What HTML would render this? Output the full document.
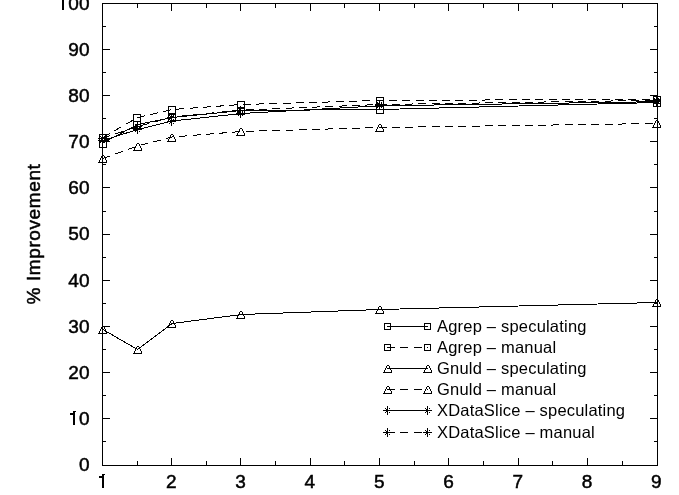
<!DOCTYPE html><html><head><meta charset="utf-8"><style>
html,body{margin:0;padding:0;background:#fff;width:679px;height:495px;overflow:hidden}
svg{display:block;will-change:transform}
text{font-family:"Liberation Sans",sans-serif;fill:#000}
.lab text{stroke:#000;stroke-width:0.5}
</style></head><body>
<svg width="679" height="495" viewBox="0 0 679 495">
<g stroke="#000" stroke-width="1" fill="none" shape-rendering="crispEdges">
<rect x="102.5" y="3.5" width="555" height="462"/>
<path d="M102 441.5h4M658 441.5h-4M102 418.5h8M658 418.5h-8M102 395.5h4M658 395.5h-4M102 372.5h8M658 372.5h-8M102 349.5h4M658 349.5h-4M102 326.5h8M658 326.5h-8M102 303.5h4M658 303.5h-4M102 280.5h8M658 280.5h-8M102 257.5h4M658 257.5h-4M102 234.5h8M658 234.5h-8M102 211.5h4M658 211.5h-4M102 187.5h8M658 187.5h-8M102 164.5h4M658 164.5h-4M102 141.5h8M658 141.5h-8M102 118.5h4M658 118.5h-4M102 95.5h8M658 95.5h-8M102 72.5h4M658 72.5h-4M102 49.5h8M658 49.5h-8M102 26.5h4M658 26.5h-4M137.5 466v-5M137.5 3v5M171.5 466v-8M171.5 3v8M206.5 466v-5M206.5 3v5M240.5 466v-8M240.5 3v8M275.5 466v-5M275.5 3v5M310.5 466v-8M310.5 3v8M344.5 466v-5M344.5 3v5M379.5 466v-8M379.5 3v8M414.5 466v-5M414.5 3v5M448.5 466v-8M448.5 3v8M483.5 466v-5M483.5 3v5M518.5 466v-8M518.5 3v8M552.5 466v-5M552.5 3v5M587.5 466v-8M587.5 3v8M622.5 466v-5M622.5 3v5"/>
</g>
<g class="lab" font-size="19">
<text x="89.5" y="471.34" text-anchor="end">0</text>
<text x="89.5" y="425.16" text-anchor="end"><tspan style="fill:none;stroke:none">1</tspan>0</text>
<text x="89.5" y="378.98" text-anchor="end">20</text>
<text x="89.5" y="332.80" text-anchor="end">30</text>
<text x="89.5" y="286.62" text-anchor="end">40</text>
<text x="89.5" y="240.44" text-anchor="end">50</text>
<text x="89.5" y="194.26" text-anchor="end">60</text>
<text x="89.5" y="148.08" text-anchor="end">70</text>
<text x="89.5" y="101.90" text-anchor="end">80</text>
<text x="89.5" y="55.72" text-anchor="end">90</text>
<text x="89.5" y="9.54" text-anchor="end"><tspan style="fill:none;stroke:none">1</tspan>00</text>
<text x="101.98" y="487.8" text-anchor="middle"><tspan style="fill:none;stroke:none">1</tspan></text>
<text x="171.28" y="487.8" text-anchor="middle">2</text>
<text x="240.58" y="487.8" text-anchor="middle">3</text>
<text x="309.88" y="487.8" text-anchor="middle">4</text>
<text x="379.18" y="487.8" text-anchor="middle">5</text>
<text x="448.48" y="487.8" text-anchor="middle">6</text>
<text x="517.78" y="487.8" text-anchor="middle">7</text>
<text x="587.08" y="487.8" text-anchor="middle">8</text>
<text x="656.38" y="487.8" text-anchor="middle">9</text>
<text transform="translate(40,234) rotate(-90)" text-anchor="middle" letter-spacing="0.6">% Improvement</text>
</g>
<g fill="#000" shape-rendering="crispEdges"><path d="M73 411h1v1h-1zM74 411h1v1h-1zM73 412h1v1h-1zM74 412h1v1h-1zM73 413h1v1h-1zM74 413h1v1h-1zM73 414h1v1h-1zM74 414h1v1h-1zM73 415h1v1h-1zM74 415h1v1h-1zM73 416h1v1h-1zM74 416h1v1h-1zM73 417h1v1h-1zM74 417h1v1h-1zM73 418h1v1h-1zM74 418h1v1h-1zM73 419h1v1h-1zM74 419h1v1h-1zM73 420h1v1h-1zM74 420h1v1h-1zM73 421h1v1h-1zM74 421h1v1h-1zM73 422h1v1h-1zM74 422h1v1h-1zM73 423h1v1h-1zM74 423h1v1h-1zM73 424h1v1h-1zM74 424h1v1h-1zM70 413h1v1h-1zM71 413h1v1h-1zM72 413h1v1h-1zM70 414h1v1h-1zM71 414h1v1h-1zM72 414h1v1h-1zM75 411h1v1h-1zM102 474h1v1h-1zM103 474h1v1h-1zM102 475h1v1h-1zM103 475h1v1h-1zM102 476h1v1h-1zM103 476h1v1h-1zM102 477h1v1h-1zM103 477h1v1h-1zM102 478h1v1h-1zM103 478h1v1h-1zM102 479h1v1h-1zM103 479h1v1h-1zM102 480h1v1h-1zM103 480h1v1h-1zM102 481h1v1h-1zM103 481h1v1h-1zM102 482h1v1h-1zM103 482h1v1h-1zM102 483h1v1h-1zM103 483h1v1h-1zM102 484h1v1h-1zM103 484h1v1h-1zM102 485h1v1h-1zM103 485h1v1h-1zM102 486h1v1h-1zM103 486h1v1h-1zM102 487h1v1h-1zM103 487h1v1h-1zM99 476h1v1h-1zM100 476h1v1h-1zM101 476h1v1h-1zM99 477h1v1h-1zM100 477h1v1h-1zM101 477h1v1h-1zM104 474h1v1h-1zM62 0h1v1h-1zM63 0h1v1h-1zM62 1h1v1h-1zM63 1h1v1h-1zM62 2h1v1h-1zM63 2h1v1h-1zM62 3h1v1h-1zM63 3h1v1h-1zM62 4h1v1h-1zM63 4h1v1h-1zM62 5h1v1h-1zM63 5h1v1h-1zM62 6h1v1h-1zM63 6h1v1h-1zM62 7h1v1h-1zM63 7h1v1h-1zM62 8h1v1h-1zM63 8h1v1h-1zM62 9h1v1h-1zM63 9h1v1h-1z"/></g>
<g stroke="#000" stroke-width="1" fill="none" shape-rendering="crispEdges">
<polyline points="102.88,143.00 137.53,124.50 172.18,117.50 241.48,110.50 380.08,109.50 657.28,102.50"/>
<polyline points="102.88,137.50 137.53,117.50 172.18,109.50 241.48,104.50 380.08,100.50 657.28,99.20" stroke-dasharray="8 5.3"/>
<polyline points="102.88,329.50 137.53,349.50 172.18,323.50 241.48,314.50 380.08,309.50 657.28,302.50"/>
<polyline points="102.88,158.50 137.53,146.00 172.18,137.00 241.48,131.50 380.08,127.50 657.28,123.50" stroke-dasharray="8 5.3"/>
<polyline points="102.88,140.50 137.53,129.50 172.18,121.00 241.48,113.50 380.08,105.80 657.28,101.70"/>
<polyline points="102.88,138.00 137.53,126.50 172.18,117.00 241.48,110.00 380.08,104.50 657.28,100.30" stroke-dasharray="8 5.3"/>
</g>
<g fill="#000" shape-rendering="crispEdges">
<path d="M98 138h1v1h-1zM98 140h1v1h-1zM98 162h1v1h-1zM98 333h1v1h-1zM99 134h1v1h-1zM99 135h1v1h-1zM99 136h1v1h-1zM99 137h1v1h-1zM99 138h1v1h-1zM99 139h1v1h-1zM99 140h1v1h-1zM99 141h1v1h-1zM99 142h1v1h-1zM99 143h1v1h-1zM99 144h1v1h-1zM99 145h1v1h-1zM99 146h1v1h-1zM99 147h1v1h-1zM99 160h1v1h-1zM99 161h1v1h-1zM99 162h1v1h-1zM99 331h1v1h-1zM99 332h1v1h-1zM99 333h1v1h-1zM100 134h1v1h-1zM100 136h1v1h-1zM100 138h1v1h-1zM100 140h1v1h-1zM100 141h1v1h-1zM100 142h1v1h-1zM100 147h1v1h-1zM100 158h1v1h-1zM100 159h1v1h-1zM100 162h1v1h-1zM100 329h1v1h-1zM100 330h1v1h-1zM100 333h1v1h-1zM101 134h1v1h-1zM101 137h1v1h-1zM101 138h1v1h-1zM101 139h1v1h-1zM101 140h1v1h-1zM101 141h1v1h-1zM101 147h1v1h-1zM101 156h1v1h-1zM101 157h1v1h-1zM101 162h1v1h-1zM101 327h1v1h-1zM101 328h1v1h-1zM101 333h1v1h-1zM102 134h1v1h-1zM102 135h1v1h-1zM102 136h1v1h-1zM102 137h1v1h-1zM102 138h1v1h-1zM102 139h1v1h-1zM102 140h1v1h-1zM102 141h1v1h-1zM102 142h1v1h-1zM102 143h1v1h-1zM102 144h1v1h-1zM102 147h1v1h-1zM102 155h1v1h-1zM102 162h1v1h-1zM102 326h1v1h-1zM102 333h1v1h-1zM103 134h1v1h-1zM103 138h1v1h-1zM103 140h1v1h-1zM103 141h1v1h-1zM103 147h1v1h-1zM103 155h1v1h-1zM103 162h1v1h-1zM103 326h1v1h-1zM103 333h1v1h-1zM104 134h1v1h-1zM104 136h1v1h-1zM104 138h1v1h-1zM104 140h1v1h-1zM104 141h1v1h-1zM104 142h1v1h-1zM104 147h1v1h-1zM104 156h1v1h-1zM104 157h1v1h-1zM104 162h1v1h-1zM104 327h1v1h-1zM104 328h1v1h-1zM104 333h1v1h-1zM105 134h1v1h-1zM105 138h1v1h-1zM105 140h1v1h-1zM105 141h1v1h-1zM105 147h1v1h-1zM105 158h1v1h-1zM105 159h1v1h-1zM105 162h1v1h-1zM105 329h1v1h-1zM105 330h1v1h-1zM105 333h1v1h-1zM106 134h1v1h-1zM106 135h1v1h-1zM106 136h1v1h-1zM106 137h1v1h-1zM106 138h1v1h-1zM106 139h1v1h-1zM106 140h1v1h-1zM106 141h1v1h-1zM106 142h1v1h-1zM106 143h1v1h-1zM106 144h1v1h-1zM106 145h1v1h-1zM106 146h1v1h-1zM106 147h1v1h-1zM106 160h1v1h-1zM106 161h1v1h-1zM106 162h1v1h-1zM106 331h1v1h-1zM106 332h1v1h-1zM106 333h1v1h-1zM133 114h1v1h-1zM133 115h1v1h-1zM133 116h1v1h-1zM133 117h1v1h-1zM133 118h1v1h-1zM133 119h1v1h-1zM133 120h1v1h-1zM133 121h1v1h-1zM133 122h1v1h-1zM133 123h1v1h-1zM133 124h1v1h-1zM133 125h1v1h-1zM133 126h1v1h-1zM133 127h1v1h-1zM133 128h1v1h-1zM133 129h1v1h-1zM133 150h1v1h-1zM133 353h1v1h-1zM134 114h1v1h-1zM134 121h1v1h-1zM134 126h1v1h-1zM134 128h1v1h-1zM134 129h1v1h-1zM134 148h1v1h-1zM134 149h1v1h-1zM134 150h1v1h-1zM134 351h1v1h-1zM134 352h1v1h-1zM134 353h1v1h-1zM135 114h1v1h-1zM135 121h1v1h-1zM135 124h1v1h-1zM135 126h1v1h-1zM135 127h1v1h-1zM135 128h1v1h-1zM135 129h1v1h-1zM135 131h1v1h-1zM135 146h1v1h-1zM135 147h1v1h-1zM135 150h1v1h-1zM135 349h1v1h-1zM135 350h1v1h-1zM135 353h1v1h-1zM136 114h1v1h-1zM136 121h1v1h-1zM136 125h1v1h-1zM136 126h1v1h-1zM136 127h1v1h-1zM136 128h1v1h-1zM136 129h1v1h-1zM136 130h1v1h-1zM136 144h1v1h-1zM136 145h1v1h-1zM136 150h1v1h-1zM136 347h1v1h-1zM136 348h1v1h-1zM136 353h1v1h-1zM137 114h1v1h-1zM137 121h1v1h-1zM137 122h1v1h-1zM137 123h1v1h-1zM137 124h1v1h-1zM137 125h1v1h-1zM137 126h1v1h-1zM137 127h1v1h-1zM137 128h1v1h-1zM137 129h1v1h-1zM137 130h1v1h-1zM137 131h1v1h-1zM137 132h1v1h-1zM137 133h1v1h-1zM137 143h1v1h-1zM137 150h1v1h-1zM137 346h1v1h-1zM137 353h1v1h-1zM138 114h1v1h-1zM138 121h1v1h-1zM138 126h1v1h-1zM138 128h1v1h-1zM138 129h1v1h-1zM138 143h1v1h-1zM138 150h1v1h-1zM138 346h1v1h-1zM138 353h1v1h-1zM139 114h1v1h-1zM139 121h1v1h-1zM139 124h1v1h-1zM139 126h1v1h-1zM139 127h1v1h-1zM139 128h1v1h-1zM139 129h1v1h-1zM139 131h1v1h-1zM139 144h1v1h-1zM139 145h1v1h-1zM139 150h1v1h-1zM139 347h1v1h-1zM139 348h1v1h-1zM139 353h1v1h-1zM140 114h1v1h-1zM140 115h1v1h-1zM140 116h1v1h-1zM140 117h1v1h-1zM140 118h1v1h-1zM140 119h1v1h-1zM140 120h1v1h-1zM140 121h1v1h-1zM140 122h1v1h-1zM140 123h1v1h-1zM140 124h1v1h-1zM140 125h1v1h-1zM140 126h1v1h-1zM140 127h1v1h-1zM140 128h1v1h-1zM140 129h1v1h-1zM140 146h1v1h-1zM140 147h1v1h-1zM140 150h1v1h-1zM140 349h1v1h-1zM140 350h1v1h-1zM140 353h1v1h-1zM141 126h1v1h-1zM141 129h1v1h-1zM141 148h1v1h-1zM141 149h1v1h-1zM141 150h1v1h-1zM141 351h1v1h-1zM141 352h1v1h-1zM141 353h1v1h-1zM167 117h1v1h-1zM167 121h1v1h-1zM167 141h1v1h-1zM167 327h1v1h-1zM168 106h1v1h-1zM168 107h1v1h-1zM168 108h1v1h-1zM168 109h1v1h-1zM168 110h1v1h-1zM168 111h1v1h-1zM168 112h1v1h-1zM168 113h1v1h-1zM168 114h1v1h-1zM168 115h1v1h-1zM168 116h1v1h-1zM168 117h1v1h-1zM168 118h1v1h-1zM168 119h1v1h-1zM168 120h1v1h-1zM168 121h1v1h-1zM168 139h1v1h-1zM168 140h1v1h-1zM168 141h1v1h-1zM168 325h1v1h-1zM168 326h1v1h-1zM168 327h1v1h-1zM169 106h1v1h-1zM169 113h1v1h-1zM169 114h1v1h-1zM169 115h1v1h-1zM169 117h1v1h-1zM169 119h1v1h-1zM169 121h1v1h-1zM169 123h1v1h-1zM169 137h1v1h-1zM169 138h1v1h-1zM169 141h1v1h-1zM169 323h1v1h-1zM169 324h1v1h-1zM169 327h1v1h-1zM170 106h1v1h-1zM170 113h1v1h-1zM170 114h1v1h-1zM170 116h1v1h-1zM170 117h1v1h-1zM170 118h1v1h-1zM170 120h1v1h-1zM170 121h1v1h-1zM170 122h1v1h-1zM170 135h1v1h-1zM170 136h1v1h-1zM170 141h1v1h-1zM170 321h1v1h-1zM170 322h1v1h-1zM170 327h1v1h-1zM171 106h1v1h-1zM171 113h1v1h-1zM171 114h1v1h-1zM171 115h1v1h-1zM171 116h1v1h-1zM171 117h1v1h-1zM171 118h1v1h-1zM171 119h1v1h-1zM171 120h1v1h-1zM171 121h1v1h-1zM171 122h1v1h-1zM171 123h1v1h-1zM171 124h1v1h-1zM171 125h1v1h-1zM171 134h1v1h-1zM171 141h1v1h-1zM171 320h1v1h-1zM171 327h1v1h-1zM172 106h1v1h-1zM172 113h1v1h-1zM172 114h1v1h-1zM172 117h1v1h-1zM172 121h1v1h-1zM172 134h1v1h-1zM172 141h1v1h-1zM172 320h1v1h-1zM172 327h1v1h-1zM173 106h1v1h-1zM173 113h1v1h-1zM173 114h1v1h-1zM173 115h1v1h-1zM173 117h1v1h-1zM173 119h1v1h-1zM173 121h1v1h-1zM173 123h1v1h-1zM173 135h1v1h-1zM173 136h1v1h-1zM173 141h1v1h-1zM173 321h1v1h-1zM173 322h1v1h-1zM173 327h1v1h-1zM174 106h1v1h-1zM174 113h1v1h-1zM174 114h1v1h-1zM174 117h1v1h-1zM174 121h1v1h-1zM174 137h1v1h-1zM174 138h1v1h-1zM174 141h1v1h-1zM174 323h1v1h-1zM174 324h1v1h-1zM174 327h1v1h-1zM175 106h1v1h-1zM175 107h1v1h-1zM175 108h1v1h-1zM175 109h1v1h-1zM175 110h1v1h-1zM175 111h1v1h-1zM175 112h1v1h-1zM175 113h1v1h-1zM175 114h1v1h-1zM175 115h1v1h-1zM175 116h1v1h-1zM175 117h1v1h-1zM175 118h1v1h-1zM175 119h1v1h-1zM175 120h1v1h-1zM175 121h1v1h-1zM175 139h1v1h-1zM175 140h1v1h-1zM175 141h1v1h-1zM175 325h1v1h-1zM175 326h1v1h-1zM175 327h1v1h-1zM236 110h1v1h-1zM236 113h1v1h-1zM236 135h1v1h-1zM236 318h1v1h-1zM237 101h1v1h-1zM237 102h1v1h-1zM237 103h1v1h-1zM237 104h1v1h-1zM237 105h1v1h-1zM237 106h1v1h-1zM237 107h1v1h-1zM237 108h1v1h-1zM237 109h1v1h-1zM237 110h1v1h-1zM237 111h1v1h-1zM237 112h1v1h-1zM237 113h1v1h-1zM237 114h1v1h-1zM237 133h1v1h-1zM237 134h1v1h-1zM237 135h1v1h-1zM237 316h1v1h-1zM237 317h1v1h-1zM237 318h1v1h-1zM238 101h1v1h-1zM238 107h1v1h-1zM238 108h1v1h-1zM238 110h1v1h-1zM238 111h1v1h-1zM238 112h1v1h-1zM238 113h1v1h-1zM238 114h1v1h-1zM238 115h1v1h-1zM238 131h1v1h-1zM238 132h1v1h-1zM238 135h1v1h-1zM238 314h1v1h-1zM238 315h1v1h-1zM238 318h1v1h-1zM239 101h1v1h-1zM239 107h1v1h-1zM239 108h1v1h-1zM239 109h1v1h-1zM239 110h1v1h-1zM239 111h1v1h-1zM239 112h1v1h-1zM239 113h1v1h-1zM239 114h1v1h-1zM239 129h1v1h-1zM239 130h1v1h-1zM239 135h1v1h-1zM239 312h1v1h-1zM239 313h1v1h-1zM239 318h1v1h-1zM240 101h1v1h-1zM240 106h1v1h-1zM240 107h1v1h-1zM240 108h1v1h-1zM240 109h1v1h-1zM240 110h1v1h-1zM240 111h1v1h-1zM240 112h1v1h-1zM240 113h1v1h-1zM240 114h1v1h-1zM240 115h1v1h-1zM240 116h1v1h-1zM240 117h1v1h-1zM240 128h1v1h-1zM240 135h1v1h-1zM240 311h1v1h-1zM240 318h1v1h-1zM241 101h1v1h-1zM241 107h1v1h-1zM241 108h1v1h-1zM241 110h1v1h-1zM241 113h1v1h-1zM241 114h1v1h-1zM241 128h1v1h-1zM241 135h1v1h-1zM241 311h1v1h-1zM241 318h1v1h-1zM242 101h1v1h-1zM242 107h1v1h-1zM242 108h1v1h-1zM242 110h1v1h-1zM242 111h1v1h-1zM242 112h1v1h-1zM242 113h1v1h-1zM242 114h1v1h-1zM242 115h1v1h-1zM242 129h1v1h-1zM242 130h1v1h-1zM242 135h1v1h-1zM242 312h1v1h-1zM242 313h1v1h-1zM242 318h1v1h-1zM243 101h1v1h-1zM243 107h1v1h-1zM243 108h1v1h-1zM243 110h1v1h-1zM243 113h1v1h-1zM243 114h1v1h-1zM243 131h1v1h-1zM243 132h1v1h-1zM243 135h1v1h-1zM243 314h1v1h-1zM243 315h1v1h-1zM243 318h1v1h-1zM244 101h1v1h-1zM244 102h1v1h-1zM244 103h1v1h-1zM244 104h1v1h-1zM244 105h1v1h-1zM244 106h1v1h-1zM244 107h1v1h-1zM244 108h1v1h-1zM244 109h1v1h-1zM244 110h1v1h-1zM244 111h1v1h-1zM244 112h1v1h-1zM244 113h1v1h-1zM244 114h1v1h-1zM244 133h1v1h-1zM244 134h1v1h-1zM244 135h1v1h-1zM244 316h1v1h-1zM244 317h1v1h-1zM244 318h1v1h-1zM375 104h1v1h-1zM375 105h1v1h-1zM375 131h1v1h-1zM375 313h1v1h-1zM376 97h1v1h-1zM376 98h1v1h-1zM376 99h1v1h-1zM376 100h1v1h-1zM376 101h1v1h-1zM376 102h1v1h-1zM376 103h1v1h-1zM376 104h1v1h-1zM376 105h1v1h-1zM376 106h1v1h-1zM376 107h1v1h-1zM376 108h1v1h-1zM376 109h1v1h-1zM376 110h1v1h-1zM376 111h1v1h-1zM376 112h1v1h-1zM376 113h1v1h-1zM376 129h1v1h-1zM376 130h1v1h-1zM376 131h1v1h-1zM376 311h1v1h-1zM376 312h1v1h-1zM376 313h1v1h-1zM377 97h1v1h-1zM377 102h1v1h-1zM377 103h1v1h-1zM377 104h1v1h-1zM377 105h1v1h-1zM377 106h1v1h-1zM377 107h1v1h-1zM377 113h1v1h-1zM377 127h1v1h-1zM377 128h1v1h-1zM377 131h1v1h-1zM377 309h1v1h-1zM377 310h1v1h-1zM377 313h1v1h-1zM378 97h1v1h-1zM378 103h1v1h-1zM378 104h1v1h-1zM378 105h1v1h-1zM378 106h1v1h-1zM378 113h1v1h-1zM378 125h1v1h-1zM378 126h1v1h-1zM378 131h1v1h-1zM378 307h1v1h-1zM378 308h1v1h-1zM378 313h1v1h-1zM379 97h1v1h-1zM379 100h1v1h-1zM379 101h1v1h-1zM379 102h1v1h-1zM379 103h1v1h-1zM379 104h1v1h-1zM379 105h1v1h-1zM379 106h1v1h-1zM379 107h1v1h-1zM379 108h1v1h-1zM379 109h1v1h-1zM379 113h1v1h-1zM379 124h1v1h-1zM379 131h1v1h-1zM379 306h1v1h-1zM379 313h1v1h-1zM380 97h1v1h-1zM380 104h1v1h-1zM380 105h1v1h-1zM380 106h1v1h-1zM380 113h1v1h-1zM380 124h1v1h-1zM380 131h1v1h-1zM380 306h1v1h-1zM380 313h1v1h-1zM381 97h1v1h-1zM381 102h1v1h-1zM381 103h1v1h-1zM381 104h1v1h-1zM381 105h1v1h-1zM381 106h1v1h-1zM381 107h1v1h-1zM381 113h1v1h-1zM381 125h1v1h-1zM381 126h1v1h-1zM381 131h1v1h-1zM381 307h1v1h-1zM381 308h1v1h-1zM381 313h1v1h-1zM382 97h1v1h-1zM382 104h1v1h-1zM382 105h1v1h-1zM382 106h1v1h-1zM382 113h1v1h-1zM382 127h1v1h-1zM382 128h1v1h-1zM382 131h1v1h-1zM382 309h1v1h-1zM382 310h1v1h-1zM382 313h1v1h-1zM383 97h1v1h-1zM383 98h1v1h-1zM383 99h1v1h-1zM383 100h1v1h-1zM383 101h1v1h-1zM383 102h1v1h-1zM383 103h1v1h-1zM383 104h1v1h-1zM383 105h1v1h-1zM383 106h1v1h-1zM383 107h1v1h-1zM383 108h1v1h-1zM383 109h1v1h-1zM383 110h1v1h-1zM383 111h1v1h-1zM383 112h1v1h-1zM383 113h1v1h-1zM383 129h1v1h-1zM383 130h1v1h-1zM383 131h1v1h-1zM383 311h1v1h-1zM383 312h1v1h-1zM383 313h1v1h-1zM383 372h1v1h-1zM383 393h1v1h-1zM383 410h1v1h-1zM383 432h1v1h-1zM384 323h1v1h-1zM384 324h1v1h-1zM384 325h1v1h-1zM384 326h1v1h-1zM384 327h1v1h-1zM384 328h1v1h-1zM384 329h1v1h-1zM384 344h1v1h-1zM384 345h1v1h-1zM384 346h1v1h-1zM384 347h1v1h-1zM384 348h1v1h-1zM384 349h1v1h-1zM384 350h1v1h-1zM384 370h1v1h-1zM384 371h1v1h-1zM384 372h1v1h-1zM384 391h1v1h-1zM384 392h1v1h-1zM384 393h1v1h-1zM384 410h1v1h-1zM384 432h1v1h-1zM385 323h1v1h-1zM385 329h1v1h-1zM385 344h1v1h-1zM385 350h1v1h-1zM385 368h1v1h-1zM385 369h1v1h-1zM385 372h1v1h-1zM385 389h1v1h-1zM385 390h1v1h-1zM385 393h1v1h-1zM385 408h1v1h-1zM385 410h1v1h-1zM385 412h1v1h-1zM385 430h1v1h-1zM385 432h1v1h-1zM385 434h1v1h-1zM386 323h1v1h-1zM386 329h1v1h-1zM386 344h1v1h-1zM386 350h1v1h-1zM386 366h1v1h-1zM386 367h1v1h-1zM386 372h1v1h-1zM386 387h1v1h-1zM386 388h1v1h-1zM386 393h1v1h-1zM386 409h1v1h-1zM386 410h1v1h-1zM386 411h1v1h-1zM386 431h1v1h-1zM386 432h1v1h-1zM386 433h1v1h-1zM387 323h1v1h-1zM387 329h1v1h-1zM387 344h1v1h-1zM387 350h1v1h-1zM387 365h1v1h-1zM387 372h1v1h-1zM387 386h1v1h-1zM387 393h1v1h-1zM387 406h1v1h-1zM387 407h1v1h-1zM387 408h1v1h-1zM387 409h1v1h-1zM387 410h1v1h-1zM387 411h1v1h-1zM387 412h1v1h-1zM387 413h1v1h-1zM387 414h1v1h-1zM387 428h1v1h-1zM387 429h1v1h-1zM387 430h1v1h-1zM387 431h1v1h-1zM387 432h1v1h-1zM387 433h1v1h-1zM387 434h1v1h-1zM387 435h1v1h-1zM387 436h1v1h-1zM388 323h1v1h-1zM388 329h1v1h-1zM388 344h1v1h-1zM388 350h1v1h-1zM388 365h1v1h-1zM388 372h1v1h-1zM388 386h1v1h-1zM388 393h1v1h-1zM388 410h1v1h-1zM388 432h1v1h-1zM389 323h1v1h-1zM389 329h1v1h-1zM389 344h1v1h-1zM389 350h1v1h-1zM389 366h1v1h-1zM389 367h1v1h-1zM389 372h1v1h-1zM389 387h1v1h-1zM389 388h1v1h-1zM389 393h1v1h-1zM389 408h1v1h-1zM389 410h1v1h-1zM389 412h1v1h-1zM389 430h1v1h-1zM389 432h1v1h-1zM389 434h1v1h-1zM390 323h1v1h-1zM390 324h1v1h-1zM390 325h1v1h-1zM390 326h1v1h-1zM390 327h1v1h-1zM390 328h1v1h-1zM390 329h1v1h-1zM390 344h1v1h-1zM390 345h1v1h-1zM390 346h1v1h-1zM390 347h1v1h-1zM390 348h1v1h-1zM390 349h1v1h-1zM390 350h1v1h-1zM390 368h1v1h-1zM390 369h1v1h-1zM390 372h1v1h-1zM390 389h1v1h-1zM390 390h1v1h-1zM390 393h1v1h-1zM390 410h1v1h-1zM390 432h1v1h-1zM391 370h1v1h-1zM391 371h1v1h-1zM391 372h1v1h-1zM391 391h1v1h-1zM391 392h1v1h-1zM391 393h1v1h-1zM391 410h1v1h-1zM391 432h1v1h-1zM423 372h1v1h-1zM423 393h1v1h-1zM423 410h1v1h-1zM423 432h1v1h-1zM424 323h1v1h-1zM424 324h1v1h-1zM424 325h1v1h-1zM424 326h1v1h-1zM424 327h1v1h-1zM424 328h1v1h-1zM424 329h1v1h-1zM424 344h1v1h-1zM424 345h1v1h-1zM424 346h1v1h-1zM424 347h1v1h-1zM424 348h1v1h-1zM424 349h1v1h-1zM424 350h1v1h-1zM424 370h1v1h-1zM424 371h1v1h-1zM424 372h1v1h-1zM424 391h1v1h-1zM424 392h1v1h-1zM424 393h1v1h-1zM424 410h1v1h-1zM424 432h1v1h-1zM425 323h1v1h-1zM425 329h1v1h-1zM425 344h1v1h-1zM425 350h1v1h-1zM425 368h1v1h-1zM425 369h1v1h-1zM425 372h1v1h-1zM425 389h1v1h-1zM425 390h1v1h-1zM425 393h1v1h-1zM425 408h1v1h-1zM425 410h1v1h-1zM425 412h1v1h-1zM425 430h1v1h-1zM425 432h1v1h-1zM425 434h1v1h-1zM426 323h1v1h-1zM426 329h1v1h-1zM426 344h1v1h-1zM426 350h1v1h-1zM426 366h1v1h-1zM426 367h1v1h-1zM426 372h1v1h-1zM426 387h1v1h-1zM426 388h1v1h-1zM426 393h1v1h-1zM426 409h1v1h-1zM426 410h1v1h-1zM426 411h1v1h-1zM426 431h1v1h-1zM426 432h1v1h-1zM426 433h1v1h-1zM427 323h1v1h-1zM427 329h1v1h-1zM427 344h1v1h-1zM427 350h1v1h-1zM427 365h1v1h-1zM427 372h1v1h-1zM427 386h1v1h-1zM427 393h1v1h-1zM427 406h1v1h-1zM427 407h1v1h-1zM427 408h1v1h-1zM427 409h1v1h-1zM427 410h1v1h-1zM427 411h1v1h-1zM427 412h1v1h-1zM427 413h1v1h-1zM427 414h1v1h-1zM427 428h1v1h-1zM427 429h1v1h-1zM427 430h1v1h-1zM427 431h1v1h-1zM427 432h1v1h-1zM427 433h1v1h-1zM427 434h1v1h-1zM427 435h1v1h-1zM427 436h1v1h-1zM428 323h1v1h-1zM428 329h1v1h-1zM428 344h1v1h-1zM428 350h1v1h-1zM428 365h1v1h-1zM428 372h1v1h-1zM428 386h1v1h-1zM428 393h1v1h-1zM428 410h1v1h-1zM428 432h1v1h-1zM429 323h1v1h-1zM429 329h1v1h-1zM429 344h1v1h-1zM429 350h1v1h-1zM429 366h1v1h-1zM429 367h1v1h-1zM429 372h1v1h-1zM429 387h1v1h-1zM429 388h1v1h-1zM429 393h1v1h-1zM429 408h1v1h-1zM429 410h1v1h-1zM429 412h1v1h-1zM429 430h1v1h-1zM429 432h1v1h-1zM429 434h1v1h-1zM430 323h1v1h-1zM430 324h1v1h-1zM430 325h1v1h-1zM430 326h1v1h-1zM430 327h1v1h-1zM430 328h1v1h-1zM430 329h1v1h-1zM430 344h1v1h-1zM430 345h1v1h-1zM430 346h1v1h-1zM430 347h1v1h-1zM430 348h1v1h-1zM430 349h1v1h-1zM430 350h1v1h-1zM430 368h1v1h-1zM430 369h1v1h-1zM430 372h1v1h-1zM430 389h1v1h-1zM430 390h1v1h-1zM430 393h1v1h-1zM430 410h1v1h-1zM430 432h1v1h-1zM431 370h1v1h-1zM431 371h1v1h-1zM431 372h1v1h-1zM431 391h1v1h-1zM431 392h1v1h-1zM431 393h1v1h-1zM431 410h1v1h-1zM431 432h1v1h-1zM652 100h1v1h-1zM652 101h1v1h-1zM652 127h1v1h-1zM652 306h1v1h-1zM653 96h1v1h-1zM653 97h1v1h-1zM653 98h1v1h-1zM653 99h1v1h-1zM653 100h1v1h-1zM653 101h1v1h-1zM653 102h1v1h-1zM653 103h1v1h-1zM653 104h1v1h-1zM653 105h1v1h-1zM653 106h1v1h-1zM653 125h1v1h-1zM653 126h1v1h-1zM653 127h1v1h-1zM653 304h1v1h-1zM653 305h1v1h-1zM653 306h1v1h-1zM654 96h1v1h-1zM654 98h1v1h-1zM654 99h1v1h-1zM654 100h1v1h-1zM654 101h1v1h-1zM654 102h1v1h-1zM654 103h1v1h-1zM654 106h1v1h-1zM654 123h1v1h-1zM654 124h1v1h-1zM654 127h1v1h-1zM654 302h1v1h-1zM654 303h1v1h-1zM654 306h1v1h-1zM655 96h1v1h-1zM655 99h1v1h-1zM655 100h1v1h-1zM655 101h1v1h-1zM655 102h1v1h-1zM655 103h1v1h-1zM655 106h1v1h-1zM655 121h1v1h-1zM655 122h1v1h-1zM655 127h1v1h-1zM655 300h1v1h-1zM655 301h1v1h-1zM655 306h1v1h-1zM656 96h1v1h-1zM656 97h1v1h-1zM656 98h1v1h-1zM656 99h1v1h-1zM656 100h1v1h-1zM656 101h1v1h-1zM656 102h1v1h-1zM656 103h1v1h-1zM656 104h1v1h-1zM656 105h1v1h-1zM656 106h1v1h-1zM656 120h1v1h-1zM656 127h1v1h-1zM656 299h1v1h-1zM656 306h1v1h-1zM657 96h1v1h-1zM657 99h1v1h-1zM657 100h1v1h-1zM657 101h1v1h-1zM657 103h1v1h-1zM657 106h1v1h-1zM657 120h1v1h-1zM657 127h1v1h-1zM657 299h1v1h-1zM657 306h1v1h-1zM658 96h1v1h-1zM658 98h1v1h-1zM658 99h1v1h-1zM658 100h1v1h-1zM658 101h1v1h-1zM658 102h1v1h-1zM658 103h1v1h-1zM658 106h1v1h-1zM658 121h1v1h-1zM658 122h1v1h-1zM658 127h1v1h-1zM658 300h1v1h-1zM658 301h1v1h-1zM658 306h1v1h-1zM659 96h1v1h-1zM659 99h1v1h-1zM659 100h1v1h-1zM659 101h1v1h-1zM659 103h1v1h-1zM659 106h1v1h-1zM659 123h1v1h-1zM659 124h1v1h-1zM659 127h1v1h-1zM659 302h1v1h-1zM659 303h1v1h-1zM659 306h1v1h-1zM660 96h1v1h-1zM660 97h1v1h-1zM660 98h1v1h-1zM660 99h1v1h-1zM660 100h1v1h-1zM660 101h1v1h-1zM660 102h1v1h-1zM660 103h1v1h-1zM660 104h1v1h-1zM660 105h1v1h-1zM660 106h1v1h-1zM660 125h1v1h-1zM660 126h1v1h-1zM660 127h1v1h-1zM660 304h1v1h-1zM660 305h1v1h-1zM660 306h1v1h-1z"/>
</g>
<g stroke="#000" stroke-width="1" fill="none" shape-rendering="crispEdges">
<path d="M387 326.5H428"/>
<path d="M387 347.5H428" stroke-dasharray="8 5.3"/>
<path d="M387 368.5H428"/>
<path d="M387 389.5H428" stroke-dasharray="8 5.3"/>
<path d="M387 410.5H428"/>
<path d="M387 432.5H428" stroke-dasharray="8 5.3"/>
</g>
<g font-size="16.5" letter-spacing="0.2">
<text x="437" y="331.80">Agrep – speculating</text>
<text x="437" y="352.80">Agrep – manual</text>
<text x="437" y="373.80">Gnuld – speculating</text>
<text x="437" y="394.80">Gnuld – manual</text>
<text x="437" y="415.80">XDataSlice – speculating</text>
<text x="437" y="437.80">XDataSlice – manual</text>
</g>
</svg></body></html>
